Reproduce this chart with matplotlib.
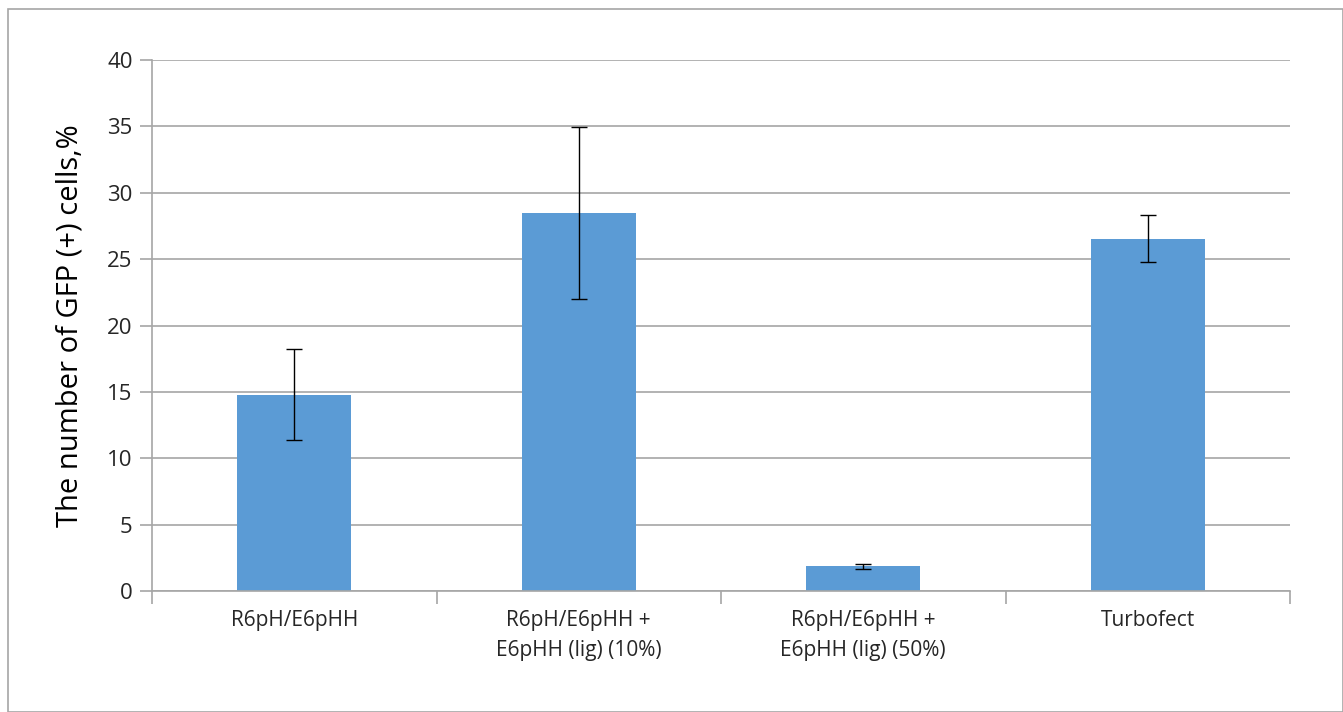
import matplotlib.pyplot as plt
from matplotlib.patches import Rectangle
import numpy as np

# Данные
categories = ["R6pH/E6pHH",
              "R6pH/E6pHH +\nE6pHH (lig) (10%)",
              "R6pH/E6pHH +\nE6pHH (lig) (50%)",
              "Turbofect"]
values = [14.8, 28.5, 1.85, 26.55]
errors = [3.42, 6.47, 0.18, 1.8]

plt.rcParams['font.family'] = ['Open Sans', 'DejaVu Sans']

fig = plt.figure(figsize=(13.43, 7.12), dpi=100)
ax = fig.add_axes([152 / 1343, 1 - 591 / 712, (1290 - 152) / 1343, (591 - 60) / 712])

# рамка вокруг всей диаграммы
fig.patches.append(Rectangle((8 / 1343, 0), (1343 - 8) / 1343, 1 - 9 / 712,
                             transform=fig.transFigure, fill=False,
                             edgecolor="#a6a6a6", linewidth=1.2))

x = np.arange(len(categories))
ax.bar(x, values, width=0.4, color="#5b9bd5", zorder=2)
ax.errorbar(x, values, yerr=errors, fmt="none", ecolor="black",
            elinewidth=1.0, capsize=6, capthick=1.0, zorder=3)

ax.set_xlim(-0.5, len(categories) - 0.5)
ax.set_ylim(0, 40)
ax.set_yticks(np.arange(0, 41, 5))
ax.yaxis.grid(True, color="#a6a6a6", linewidth=1.2, zorder=0)
ax.set_axisbelow(True)

for side in ["top", "right"]:
    ax.spines[side].set_visible(False)
for side in ["left", "bottom"]:
    ax.spines[side].set_color("#a6a6a6")
    ax.spines[side].set_linewidth(1.2)

# подписи категорий без делений, деления на границах
ax.set_xticks(x)
ax.set_xticklabels(categories, fontsize=15, color="#262626", linespacing=1.55)
ax.tick_params(axis="x", length=0, pad=14)
ax.set_xticks(np.arange(-0.5, len(categories)), minor=True)
ax.tick_params(axis="x", which="minor", length=9, color="#a6a6a6", width=1.2)
ax.tick_params(axis="y", length=9, color="#a6a6a6", width=1.2,
               labelsize=16, labelcolor="#262626", pad=5)

ax.set_ylabel("The number of GFP (+) cells,%", fontsize=21, color="black", labelpad=16)

fig.savefig("out.png", dpi=100)
